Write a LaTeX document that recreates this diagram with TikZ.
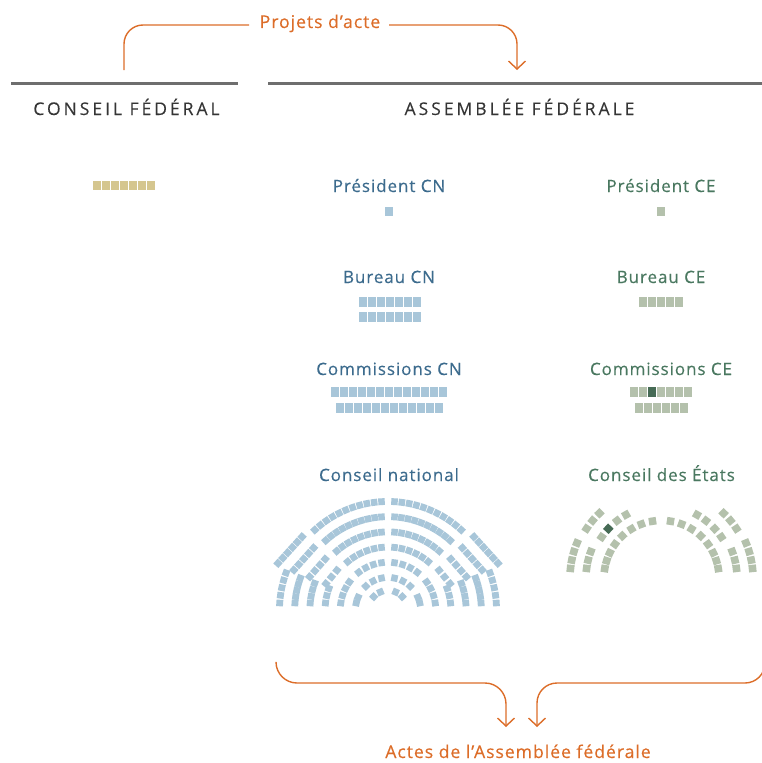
\documentclass[tikz,border=0pt]{standalone}
\usepackage{fontspec}
\setmainfont{Open Sans}
\newfontfamily\lblfont[LetterSpace=5.5,FakeBold=0.35]{Open Sans}
\newfontfamily\hdrfont[LetterSpace=17,FakeBold=0.15]{Open Sans}
\usetikzlibrary{arrows.meta}
\definecolor{cnseat}{HTML}{A8C6D9}
\definecolor{ceseat}{HTML}{B4C1AC}
\definecolor{cedark}{HTML}{466B55}
\definecolor{cfseat}{HTML}{D5C68F}
\definecolor{cntext}{HTML}{3C6B8D}
\definecolor{cetext}{HTML}{4A7860}
\definecolor{orng}{HTML}{DC6D29}
\definecolor{hdrtext}{HTML}{353535}
\definecolor{rulegray}{HTML}{6E6E6E}

% grid row of seats: cx cy n colour
\newcommand\gridrow[4]{%
  \foreach \ii in {1,...,#3}{%
    \pgfmathsetmacro\gx{#1+9*(\ii-(#3+1)/2)}%
    \fill[#4] (\gx-4,#2-4.9) rectangle (\gx+4,#2+4.9);
  }}
% seats on an arc (mirrored): cx cy r thA thB n colour
\newcommand\arcseats[7]{%
  \foreach \ii in {1,...,#6}{%
    \pgfmathsetmacro\sth{#4+(#5-#4)*(\ii-1)/max(#6-1,1)}%
    \pgfmathsetmacro\seatX{#1+#3*cos(\sth)}%
    \pgfmathsetmacro\seatY{#2-#3*sin(\sth)}%
    \pgfmathsetmacro\mirX{2*#1-\seatX}%
    \pgfmathsetmacro\mth{180-\sth}%
    \fill[#7,shift={(\seatX,\seatY)},rotate=\sth] (-3.4,-3.25) rectangle (3.4,3.25);
    \fill[#7,shift={(\mirX,\seatY)},rotate=\mth] (-3.4,-3.25) rectangle (3.4,3.25);
  }}
\newcommand\arcauto[6]{%
  \pgfmathtruncatemacro\nn{round(abs(#5-#4)*pi/180*#3/7.2)+1}%
  \arcseats{#1}{#2}{#3}{#4}{#5}{\nn}{#6}}
% seats on a straight segment (mirrored): cx x1 y1 x2 y2 n colour
\newcommand\lineseats[7]{%
  \pgfmathsetmacro\lang{atan2(-(#5-#3),#4-#2)}%
  \pgfmathsetmacro\mang{180-\lang}%
  \foreach \ii in {1,...,#6}{%
    \pgfmathsetmacro\seatX{#2+(#4-#2)*(\ii-1)/max(#6-1,1)}%
    \pgfmathsetmacro\seatY{#3+(#5-#3)*(\ii-1)/max(#6-1,1)}%
    \pgfmathsetmacro\mirX{2*#1-\seatX}%
    \fill[#7,shift={(\seatX,\seatY)},rotate=\lang] (-3.25,-3.4) rectangle (3.25,3.4);
    \fill[#7,shift={(\mirX,\seatY)},rotate=\mang] (-3.25,-3.4) rectangle (3.25,3.4);
  }}
% national council row, simple arcs: r aisle
\newcommand\cnsimple[2]{%
  \pgfmathsetmacro\ta{90+6.5/#1*180/pi}%
  \pgfmathsetmacro\tb{#2-6.75/#1*180/pi}%
  \pgfmathsetmacro\tc{#2+6.75/#1*180/pi}%
  \pgfmathsetmacro\td{180-asin(7/#1)}%
  \arcauto{388}{610}{#1}{\ta}{\tb}{cnseat}%
  \arcauto{388}{610}{#1}{\tc}{\td}{cnseat}}
% national council row with shoulder: r bulge
\newcommand\cnfull[2]{%
  \pgfmathsetmacro\ta{90+6.5/#1*180/pi}%
  \pgfmathsetmacro\tb{136-6.75/#1*180/pi}%
  \arcauto{388}{610}{#1}{\ta}{\tb}{cnseat}%
  \pgfmathsetmacro\tc{136+6.75/#1*180/pi}%
  \pgfmathsetmacro\ra{#1+0.4*#2}%
  \pgfmathsetmacro\rb{#1+#2}%
  \pgfmathsetmacro\pax{388+\ra*cos(\tc)}%
  \pgfmathsetmacro\pay{610-\ra*sin(\tc)}%
  \pgfmathsetmacro\pbx{388+\rb*cos(157)}%
  \pgfmathsetmacro\pby{610-\rb*sin(157)}%
  \pgfmathtruncatemacro\nl{round(veclen(\pbx-\pax,\pby-\pay)/7.2)+1}%
  \lineseats{388}{\pax}{\pay}{\pbx}{\pby}{\nl}{cnseat}%
  \pgfmathsetmacro\td{180-asin(7/#1)}%
  \arcauto{388}{610}{#1}{160}{\td}{cnseat}}
% council of states seat, left side colour given, right side plain
\newcommand\ceseatpair[3]{%
  \pgfmathsetmacro\seatX{661.5+#1*cos(#2)}%
  \pgfmathsetmacro\seatY{578-#1*sin(#2)}%
  \pgfmathsetmacro\mirX{1323-\seatX}%
  \pgfmathsetmacro\mth{180-#2}%
  \fill[#3,shift={(\seatX,\seatY)},rotate=#2] (-3.8,-3.7) rectangle (3.8,3.7);
  \fill[ceseat,shift={(\mirX,\seatY)},rotate=\mth] (-3.8,-3.7) rectangle (3.8,3.7);}

\tikzset{
  lbl/.style={font=\lblfont\fontsize{17bp}{20bp}\selectfont, inner sep=0pt, anchor=base},
  hdr/.style={font=\hdrfont\fontsize{17.5bp}{20bp}\selectfont, text=hdrtext, inner sep=0pt, anchor=base},
  cnlbl/.style={lbl, text=cntext},
  celbl/.style={lbl, text=cetext},
  orlbl/.style={lbl, font=\lblfont\fontsize{17.6bp}{20bp}\selectfont, text=orng},
  rulestyle/.style={draw=rulegray, line width=2.2bp},
  orngline/.style={draw=orng, line width=1.4bp},
  orngarrow/.style={orngline, -{Straight Barb[length=8bp,width=17bp,line width=1.4bp]}}
}

\begin{document}
\begin{tikzpicture}[x=1bp,y=-1bp]
\useasboundingbox (0,0) rectangle (762,763);

% header rules and titles
\draw[rulestyle] (11,83.5) -- (238,83.5);
\draw[rulestyle] (268,83.5) -- (762,83.5);
\node[hdr] (cf) at (126.5,115) {CONSEIL FÉDÉRAL};
\node[hdr] (af) at (519.5,115) {ASSEMBLÉE FÉDÉRALE};

% top connector
\node[orlbl] (proj) at (320,28) {Projets d’acte};
\coordinate (cfOut) at (124,70);
\coordinate (projL) at (249,25);
\coordinate (projR) at (389,25);
\coordinate (afIn) at (517,70);
\draw[orngline, rounded corners=19bp] (cfOut) |- (projL);
\draw[orngarrow, rounded corners=19bp] (projR) -| (afIn);

% labels
\node[cnlbl] (presCN) at (389,192) {Président CN};
\node[celbl] (presCE) at (661,192) {Président CE};
\node[cnlbl] (burCN) at (389,283) {Bureau CN};
\node[celbl] (burCE) at (661,283) {Bureau CE};
\node[cnlbl] (comCN) at (389,375) {Commissions CN};
\node[celbl] (comCE) at (661,375) {Commissions CE};
\node[cnlbl] (cn) at (389,481) {Conseil national};
\node[celbl] (ce) at (661.5,481) {Conseil des États};

% grid seats
\gridrow{124.2}{185.5}{7}{cfseat}
\gridrow{388.5}{211.5}{1}{cnseat}
\gridrow{660.5}{211.5}{1}{ceseat}
\gridrow{389.5}{302}{7}{cnseat}
\gridrow{389.5}{317}{7}{cnseat}
\gridrow{661}{302}{5}{ceseat}
\gridrow{389.2}{392.3}{13}{cnseat}
\gridrow{389.2}{408}{12}{cnseat}
\gridrow{661.3}{392.3}{7}{ceseat}
\gridrow{661.3}{408}{6}{ceseat}
\fill[cedark] (652.3-4,392.3-4.9) rectangle (652.3+4,392.3+4.9);

% national council hemicycle
\arcseats{388}{610}{19.5}{113}{137}{2}{cnseat}
\cnsimple{32.5}{145}
\cnsimple{47.7}{136}
\cnfull{62.9}{4.5}
\cnfull{78.1}{7}
\cnfull{93.3}{9}
\cnfull{108.5}{11}

% council of states hemicycle
\foreach \ang in {99,110.5,121.5,133,144,154,162.5,170.6}{\ceseatpair{57.5}{\ang}{ceseat}}
\foreach \ang in {119.3,127.8,145.6}{\ceseatpair{72.5}{\ang}{ceseat}}
\ceseatpair{72.5}{137.2}{cedark}
\foreach \ang in {159.5,166.3,172.7}{\ceseatpair{75.5}{\ang}{ceseat}}
\foreach \ang in {133.8,140.2,146.6}{\ceseatpair{89.7}{\ang}{ceseat}}
\foreach \ang in {157.5,163.2,168.7,174}{\ceseatpair{91.5}{\ang}{ceseat}}

% bottom connectors
\coordinate (cnOut) at (276,662);
\coordinate (bl) at (506,683);
\coordinate (actL) at (506,727);
\coordinate (ceOut) at (765,650);
\coordinate (br) at (537,683);
\coordinate (actR) at (537,727);
\draw[orngarrow, rounded corners=21bp] (cnOut) |- (bl) -- (actL);
\draw[orngarrow, rounded corners=20bp] (ceOut) |- (br) -- (actR);
\node[orlbl] (acts) at (518,758) {Actes de l’Assemblée fédérale};
\end{tikzpicture}
\end{document}
